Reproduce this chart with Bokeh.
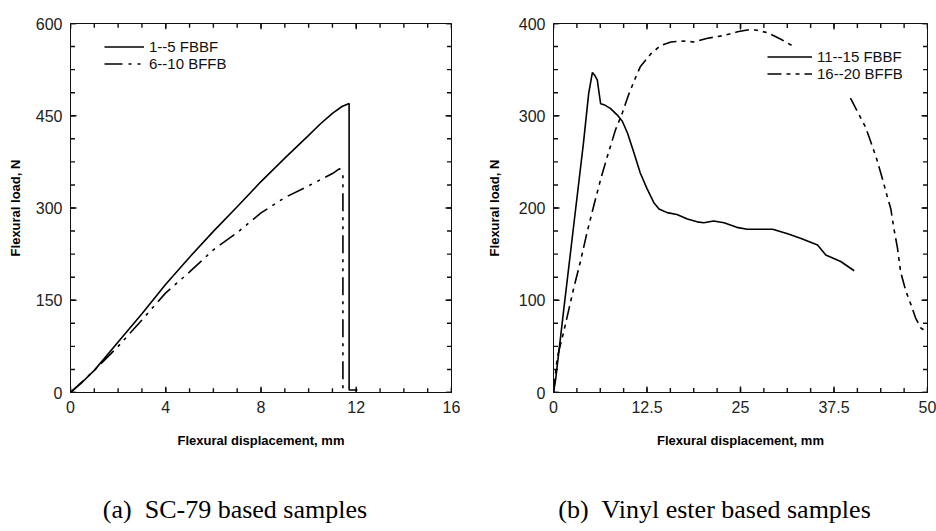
import numpy as np
from bokeh.plotting import figure
from bokeh.layouts import row
from bokeh.models import (Range1d, SingleIntervalTicker, FixedTicker, LinearAxis,
                          Legend, LegendItem)
from bokeh.embed import file_html
from bokeh.resources import INLINE

# ---------------- data: (a) SC-79 based samples ----------------
a_fbbf_x = [0, 0.5, 1, 2, 3, 4, 5, 6, 7, 8, 9, 10, 10.5, 11, 11.4, 11.7, 11.7, 12.05]
a_fbbf_y = [0, 17, 36, 82, 128, 176, 220, 262, 302, 343, 381, 418, 437, 454, 465, 470, 4, 4]
a_bffb_x = [0, 1, 2, 3, 4, 5, 6, 7, 8, 9, 10, 11, 11.3, 11.44, 11.44]
a_bffb_y = [0, 36, 75, 118, 162, 196, 232, 260, 292, 317, 336, 356, 364, 352, 0]

# ---------------- data: (b) Vinyl ester based samples ----------------
b_fbbf_x = [0, 0.3, 1.4, 2.7, 4.0, 4.7, 5.2, 5.5, 5.85, 6.3, 6.75, 7.6, 8.5, 9.2, 9.9,
            10.75, 11.6, 12.5, 13.4, 14.1, 15.2, 16.5, 17.9, 19.2, 20.1, 21.4, 22.8,
            24.5, 25.9, 29.3, 31.3, 33.1, 35.3, 36.4, 38.4, 40.2]
b_fbbf_y = [0, 15, 92, 181, 270, 324, 347, 344, 339, 313, 312, 308, 301, 294, 281,
            260, 238, 221, 206, 199, 195, 193, 188, 185, 184, 186, 184,
            179, 177, 177, 172, 167, 160, 149, 142, 132]
nan = float("nan")
b_bffb_x = [0, 0.5, 1.4, 2.7, 3.6, 4.5, 5.4, 6.3, 7.2, 8.3, 9.2, 10.1, 11.0, 11.6, 13.0,
            14.3, 15.7, 17.4, 18.8, 20.6, 22.8, 24.6, 25.9, 27.0, 28.6, 30.4, 31.9, nan,
            39.7, 40.6, 41.7, 42.4, 43.1, 44.0, 44.6, 45.1, 45.5, 46.0, 46.4, 47.1,
            47.8, 48.4, 49.1, 50.0]
b_bffb_y = [0, 38, 67, 113, 142, 174, 203, 231, 256, 285, 303, 324, 342, 353, 367,
            376, 380, 381, 380, 384, 387, 391, 393, 393, 390, 383, 376, nan,
            319, 305, 288, 272, 256, 231, 213, 199, 178, 156, 131, 110,
            95, 81, 70, 65]

labels_a = ["1--5 FBBF", "6--10 BFFB"]
labels_b = ["11--15 FBBF", "16--20 BFFB"]
x_label = "Flexural displacement, mm"
y_label = "Flexural load, N"
caption_a = "(a)\u2002SC-79 based samples"
caption_b = "(b)\u2002Vinyl ester based samples"

TICK_FONT = "Liberation Sans"
INK = "#111111"
W, H = 468, 531


def style_axis(ax, ticker):
    ax.ticker = ticker
    ax.axis_line_color = INK
    ax.major_tick_in = 0
    ax.major_tick_out = 0
    ax.minor_tick_in = 0
    ax.minor_tick_out = 0
    ax.major_label_text_font = TICK_FONT
    ax.major_label_text_font_size = "16px"
    ax.major_label_text_color = "#222222"
    ax.major_label_standoff = 8
    ax.axis_label_text_font = TICK_FONT
    ax.axis_label_text_font_style = "bold"
    ax.axis_label_text_font_size = "13px"
    ax.axis_label_text_color = "#000000"


def inner_ticks(p, xr, yr, xint, yint, fw, fh):
    # inward tick marks mirrored on all four frame sides
    xpp = (xr[1] - xr[0]) / fw
    ypp = (yr[1] - yr[0]) / fh
    for step, length in ((xint, 6), (xint / 4.0, 4.5)):
        xs = np.arange(xr[0], xr[1] + step / 2, step)
        lo = np.full(len(xs), float(yr[0]))
        hi = np.full(len(xs), float(yr[1]))
        p.segment(x0=xs, y0=lo, x1=xs, y1=lo + length * ypp, line_color=INK, line_width=1.4)
        p.segment(x0=xs, y0=hi, x1=xs, y1=hi - length * ypp, line_color=INK, line_width=1.4)
    for step, length in ((yint, 6), (yint / 4.0, 4.5)):
        ys = np.arange(yr[0], yr[1] + step / 2, step)
        lo = np.full(len(ys), float(xr[0]))
        hi = np.full(len(ys), float(xr[1]))
        p.segment(x0=lo, y0=ys, x1=lo + length * xpp, y1=ys, line_color=INK, line_width=1.4)
        p.segment(x0=hi, y0=ys, x1=hi - length * xpp, y1=ys, line_color=INK, line_width=1.4)


def add_caption(p, text, standoff):
    # caption drawn as the label of a tick-less axis below the x axis
    cap = LinearAxis(ticker=FixedTicker(ticks=[]), axis_label=text,
                     axis_line_color=None, major_tick_line_color=None,
                     minor_tick_line_color=None, major_label_text_font_size="1px",
                     axis_label_standoff=standoff,
                     axis_label_text_font="Liberation Serif",
                     axis_label_text_font_size="26px",
                     axis_label_text_font_style="normal",
                     axis_label_text_color="black")
    p.add_layout(cap, "below")


def add_legend_item(p, label, renderer, loc, glyph_w):
    leg = Legend(items=[LegendItem(label=label, renderers=[renderer])],
                 location=loc, glyph_width=glyph_w, glyph_height=15,
                 label_height=15, label_standoff=5, spacing=0, padding=0,
                 margin=0, border_line_alpha=0, background_fill_alpha=0,
                 label_text_font=TICK_FONT, label_text_font_size="15px",
                 label_text_color=INK)
    p.add_layout(leg)


def make_fig(xr, yr, xint, yint, borders, series, labels, dashes, legend_locs,
             glyph_w, caption, ylab_standoff):
    left, right, top, bottom = borders
    fw, fh = W - left - right, H - top - bottom
    p = figure(width=W, height=H, output_backend="svg", toolbar_location=None,
               x_range=Range1d(*xr), y_range=Range1d(*yr),
               min_border_left=left, min_border_right=right,
               min_border_top=top, min_border_bottom=bottom)
    p.xgrid.visible = False
    p.ygrid.visible = False
    p.outline_line_color = INK
    p.background_fill_color = "white"
    p.border_fill_color = "white"

    style_axis(p.xaxis[0], SingleIntervalTicker(interval=xint, num_minor_ticks=4))
    style_axis(p.yaxis[0], SingleIntervalTicker(interval=yint, num_minor_ticks=4))
    p.xaxis.axis_label = x_label
    p.yaxis.axis_label = y_label
    p.xaxis.axis_label_standoff = 17
    p.yaxis.axis_label_standoff = ylab_standoff

    inner_ticks(p, xr, yr, xint, yint, fw, fh)

    (sx, sy), (dx, dy) = series
    r1 = p.line(np.array(sx, dtype=float), np.array(sy, dtype=float),
                line_color="black", line_width=1.6)
    r2 = p.line(np.array(dx, dtype=float), np.array(dy, dtype=float),
                line_color="black", line_width=1.6, line_dash=dashes)

    add_legend_item(p, labels[0], r1, legend_locs[0], glyph_w)
    add_legend_item(p, labels[1], r2, legend_locs[1], glyph_w)

    add_caption(p, caption, 44)
    return p


p1 = make_fig((0, 16), (0, 600), 4, 150, (70, 17, 12, 139),
              ((a_fbbf_x, a_fbbf_y), (a_bffb_x, a_bffb_y)), labels_a,
              "18 6 3 6 3 6", [(34, 337), (34, 320)], 40,
              caption_a + "\u2003\u2003", 10)
p2 = make_fig((0, 50), (0, 400), 12.5, 100, (85, 9, 23, 135),
              ((b_fbbf_x, b_fbbf_y), (b_bffb_x, b_bffb_y)), labels_b,
              "14 5 4 5 4 5", [(214, 327), (214, 310)], 45,
              caption_b + "\u2003\u2003", 14)

layout = row(p1, p2)
open("out.html", "w").write(file_html(layout, INLINE))
